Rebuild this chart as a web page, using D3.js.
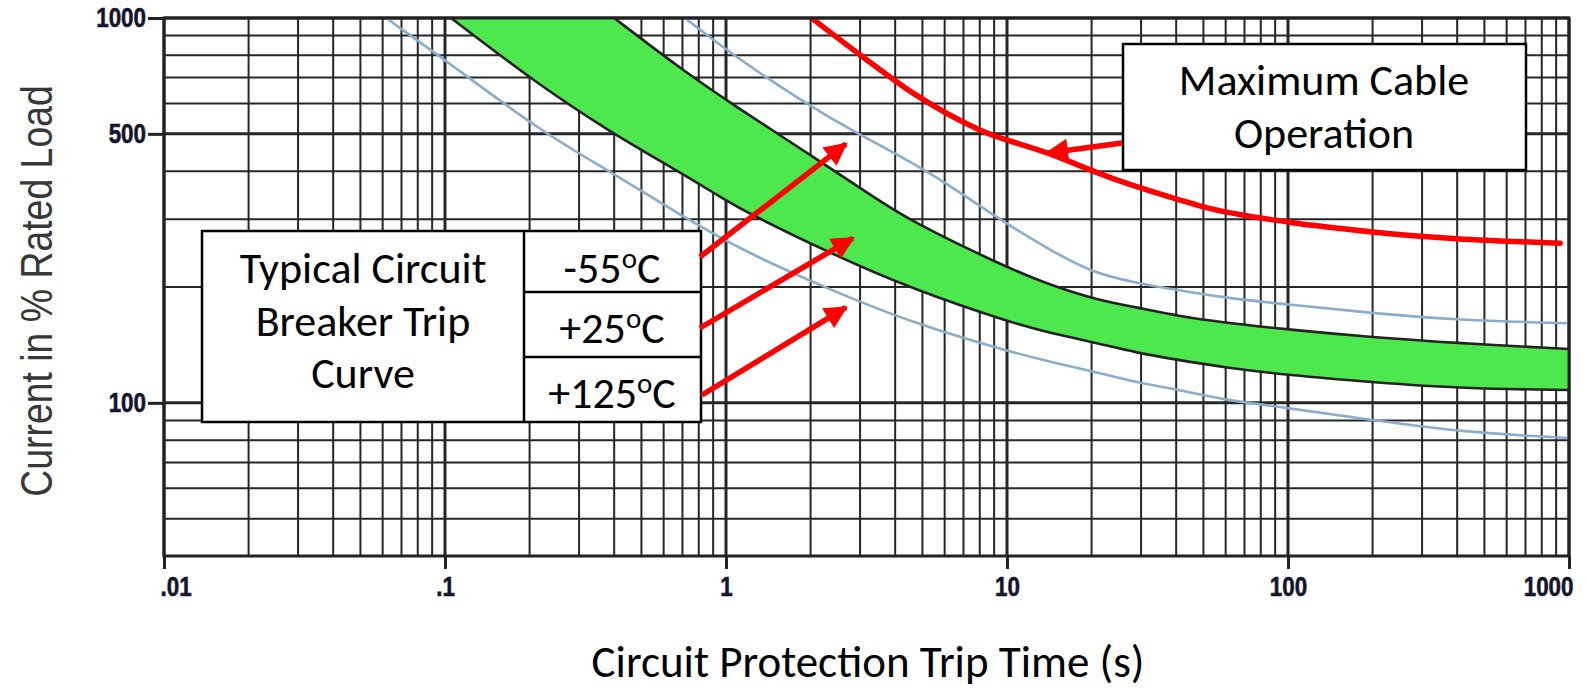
<!DOCTYPE html>
<html>
<head>
<meta charset="utf-8">
<script src="https://cdn.jsdelivr.net/npm/d3@7"></script>
<style>
  body { margin: 0; background: #fff; }
  svg { display: block; }
  .tick-label { font-family: "Liberation Sans", Arial, sans-serif; font-weight: bold; fill: #14142a; stroke: #14142a; stroke-width: 0.6; }
  .note { font-family: Carlito, Lato, "Open Sans", sans-serif; fill: #000; }
</style>
</head>
<body>
<svg id="chart" width="1587" height="700"></svg>
<script>
// axis ticks
var xTicks = [0.01, 0.1, 1, 10, 100, 1000];
var xTickLabels = [".01", ".1", "1", "10", "100", "1000"];
var yTicks = [100, 500, 1000];
var yTickLabels = ["100", "500", "1000"];

// green band (+25C), fast edge and slow edge: trip time (s) / current (% rated)
var bandLowT = [0.105, 0.204, 0.39, 0.685, 0.99, 1.19, 2.34, 4.63, 10.5, 14.2, 20.9, 28.8, 41.3, 57.8, 100, 204, 413, 1000];
var bandLowI = [1000, 690, 503, 398, 337, 312, 245, 197, 161, 152, 143, 135, 129, 124, 118, 113, 109, 108];
var bandHighT = [0.4, 0.685, 1.03, 2.2, 3.47, 4.63, 9.2, 14, 21, 29, 41, 58, 100, 200, 400, 1000];
var bandHighI = [1000, 741, 603, 421, 337, 295, 231, 203, 185, 177, 168, 162, 155, 148, 143, 138];

// -55C curve
var coldT = [0.714, 1.03, 1.95, 2.9, 5.3, 9.4, 14.2, 20, 28.8, 41, 58, 100, 200, 400, 1000];
var coldI = [1000, 811, 595, 503, 400, 299, 250, 218, 205, 196, 188, 180, 171, 164, 161];

// +125C curve
var hotT = [0.062, 0.069, 0.1, 0.223, 0.39, 0.685, 1.19, 2.34, 4.63, 10.5, 14.2, 20.9, 28.8, 41.3, 57.8, 100, 204, 413, 1000];
var hotI = [1000, 942, 778, 503, 398, 308, 245, 197, 161, 135, 128, 120, 113, 108, 102, 97, 90, 84, 81];

// maximum cable operation
var cableT = [2.05, 3.07, 4.63, 8.0, 13.9, 24, 41, 50, 100, 200, 400, 930];
var cableI = [990, 792, 638, 512, 446, 382, 337, 323, 295, 278, 267, 260];

// arrow targets (time, current)
var arrowT = [2.67, 2.83, 2.67, 13.9];
var arrowI = [471, 268, 177, 446];

var tempLabels = ["-55", "+25", "+125"];
var tableLines = ["Typical Circuit", "Breaker Trip", "Curve"];
var cableLines = ["Maximum Cable", "Operation"];

var svg = d3.select("#chart");
var x = d3.scaleLog().domain([0.01, 1000]).range([164, 1569]);
var y = d3.scaleLog().domain([40, 1000]).range([556, 18]);
var squeeze = 0.8;

function pts(ts, is) { return ts.map(function(t, i) { return [x(t), y(is[i])]; }); }
var line = d3.line().curve(d3.curveBasis);
var redLine = d3.line().curve(d3.curveMonotoneX);

// grid
var grid = svg.append("g");
grid.selectAll(".vg").data(x.ticks()).enter().append("line")
  .attr("x1", function(d) { return x(d); }).attr("x2", function(d) { return x(d); })
  .attr("y1", y(40)).attr("y2", y(1000))
  .attr("stroke", "#262626")
  .attr("stroke-width", function(d) { return xTicks.indexOf(d) >= 0 ? 3 : 2; });
grid.selectAll(".hg").data(y.ticks()).enter().append("line")
  .attr("y1", function(d) { return y(d); }).attr("y2", function(d) { return y(d); })
  .attr("x1", x(0.01)).attr("x2", x(1000))
  .attr("stroke", "#262626")
  .attr("stroke-width", function(d) { return yTicks.indexOf(d) >= 0 ? 3 : 2; });

// green band
var lowP = pts(bandLowT, bandLowI);
var highP = pts(bandHighT, bandHighI);
var highRev = highP.slice().reverse();
var bandPath = line(lowP) + "L" + line(highRev).slice(1) + "Z";
svg.append("path").attr("d", bandPath).attr("fill", "#4de84d");
svg.append("path").attr("d", line(lowP)).attr("fill", "none").attr("stroke", "#222").attr("stroke-width", 2.6);
svg.append("path").attr("d", line(highP)).attr("fill", "none").attr("stroke", "#222").attr("stroke-width", 2.6);

// temperature curves
[[coldT, coldI], [hotT, hotI]].forEach(function(s) {
  svg.append("path").attr("d", line(pts(s[0], s[1])))
    .attr("fill", "none").attr("stroke", "#8aadcb").attr("stroke-width", 2.6);
});

svg.append("path").attr("d", redLine(pts(cableT, cableI)))
  .attr("fill", "none").attr("stroke", "#ff0000").attr("stroke-width", 5.5).attr("stroke-linecap", "round");

// frame
svg.append("rect").attr("x", x(0.01)).attr("y", y(1000))
  .attr("width", x(1000) - x(0.01)).attr("height", y(40) - y(1000))
  .attr("fill", "none").attr("stroke", "#222").attr("stroke-width", 3);

// axes
var xAxis = svg.append("g").attr("transform", "translate(0," + y(40) + ")")
  .call(d3.axisBottom(x).tickValues(xTicks).tickSize(13).tickPadding(7)
    .tickFormat(function(d, i) { return xTickLabels[i]; }));
var yAxis = svg.append("g").attr("transform", "translate(" + x(0.01) + ",0)")
  .call(d3.axisLeft(y).tickValues(yTicks).tickSize(16).tickPadding(2)
    .tickFormat(function(d, i) { return yTickLabels[i]; }));
[xAxis, yAxis].forEach(function(a) {
  a.select(".domain").remove();
  a.selectAll(".tick line").attr("stroke", "#222").attr("stroke-width", 3);
  a.selectAll(".tick text").attr("class", "tick-label").attr("font-size", 28).attr("fill", null)
    .attr("transform", "scale(" + squeeze + ",1)");
});
yAxis.selectAll(".tick text").attr("x", -18 / squeeze);
xAxis.selectAll(".tick text").filter(function(d, i) { return i === 0; }).attr("text-anchor", "start").attr("x", -4 / squeeze);
xAxis.selectAll(".tick text").filter(function(d, i) { return i === xTicks.length - 1; }).attr("text-anchor", "end").attr("x", 4 / squeeze);

// axis titles
svg.append("text").attr("transform", "translate(52,291) rotate(-90) scale(0.85,1)")
  .attr("text-anchor", "middle")
  .style("font-family", "'Liberation Sans', Arial, sans-serif")
  .attr("font-size", 44).attr("fill", "#383838")
  .text("Current in % Rated Load");
svg.append("text").attr("class", "note").attr("x", 868).attr("y", 677)
  .attr("text-anchor", "middle").attr("font-size", 45)
  .text("Circuit Protection Trip Time (s)");

// cable annotation box
var cb = svg.append("g");
cb.append("rect").attr("x", 1123).attr("y", 44).attr("width", 403).attr("height", 126)
  .attr("fill", "#fff").attr("stroke", "#000").attr("stroke-width", 2.5);
cb.selectAll("text").data(cableLines).enter().append("text").attr("class", "note")
  .attr("x", 1324).attr("y", function(d, i) { return 95 + i * 53; })
  .attr("text-anchor", "middle").attr("font-size", 44).text(function(d) { return d; });

// table box
var tb = svg.append("g");
tb.append("rect").attr("x", 202).attr("y", 231).attr("width", 499).attr("height", 191)
  .attr("fill", "#fff").attr("stroke", "#000").attr("stroke-width", 2.5);
tb.append("line").attr("x1", 524).attr("x2", 524).attr("y1", 231).attr("y2", 422).attr("stroke", "#000").attr("stroke-width", 2.5);
[292, 357].forEach(function(yy) {
  tb.append("line").attr("x1", 524).attr("x2", 701).attr("y1", yy).attr("y2", yy).attr("stroke", "#000").attr("stroke-width", 2.5);
});
tb.selectAll(".tl").data(tableLines).enter().append("text").attr("class", "note")
  .attr("x", 363).attr("y", function(d, i) { return 283 + i * 52.5; })
  .attr("text-anchor", "middle").attr("font-size", 44).text(function(d) { return d; });
var tempBase = [283, 343, 408];
tempLabels.forEach(function(t, i) {
  var tx = tb.append("text").attr("class", "note").attr("x", 612).attr("y", tempBase[i])
    .attr("text-anchor", "middle").attr("font-size", 44);
  tx.append("tspan").text(t);
  tx.append("tspan").attr("font-size", 29).attr("dy", -15).text("o");
  tx.append("tspan").attr("dy", 15).text("C");
});

// arrows
var defs = svg.append("defs");
defs.append("marker").attr("id", "head").attr("viewBox", "0 0 10 10")
  .attr("refX", 9).attr("refY", 5).attr("markerWidth", 4.4).attr("markerHeight", 4.2)
  .attr("markerUnits", "strokeWidth").attr("orient", "auto")
  .append("path").attr("d", "M0,0 L10,5 L0,10 Z").attr("fill", "#ff0000");
var tails = [[700, 257], [700, 328], [702, 395], [1122, 143]];
arrowT.forEach(function(t, i) {
  svg.append("line").attr("x1", tails[i][0]).attr("y1", tails[i][1])
    .attr("x2", x(t)).attr("y2", y(arrowI[i]))
    .attr("stroke", "#ff0000").attr("stroke-width", 5.5)
    .attr("marker-end", "url(#head)");
});
</script>
</body>
</html>
